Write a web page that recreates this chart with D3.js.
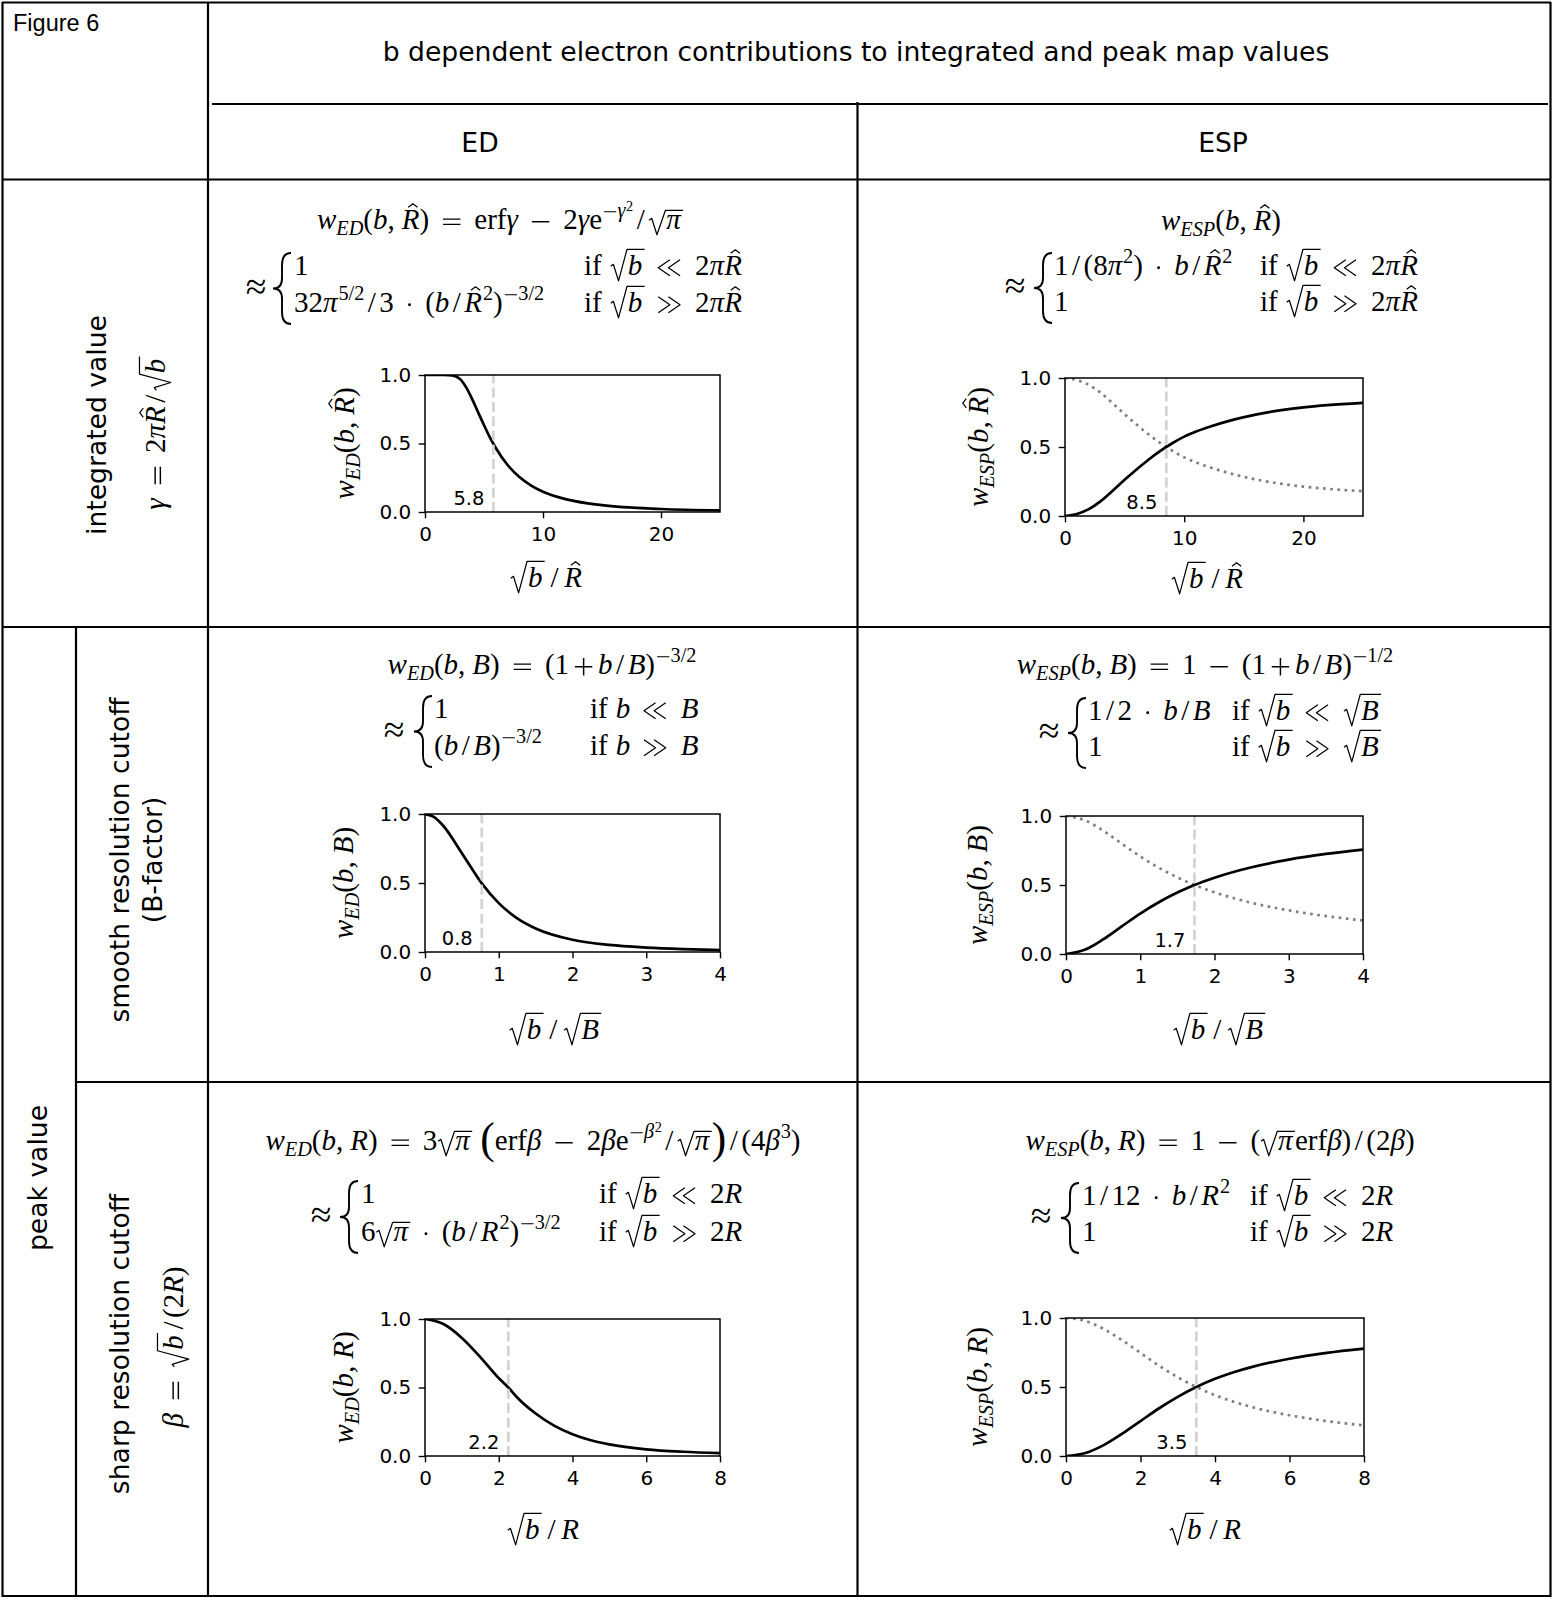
<!DOCTYPE html>
<html>
<head>
<meta charset="utf-8">
<script src="https://cdn.jsdelivr.net/npm/d3@7"></script>
<style>
  body { margin: 0; background: #fff; }
</style>
</head>
<body>
<svg id="fig" width="1555" height="1600"></svg>
<script>
// ---- values ----
const yTickValues = [0, 0.5, 1];
const xTicksIntegrated = [0, 10, 20];
const xTicksSmooth = [0, 1, 2, 3, 4];
const xTicksSharp = [0, 2, 4, 6, 8];

const markerValues = [5.8, 8.5, 0.77, 1.73, 2.26, 3.5];
const markerLabels = ["5.8", "8.5", "0.8", "1.7", "2.2", "3.5"];

// [x, y] points for each curve
const edIntegrated = [[0,1],[1.5,1],[2,0.9995],[2.5,0.994],[3,0.968],[3.5,0.908],[4,0.824],[4.5,0.728],[5,0.634],[5.5,0.544],[6,0.467],[7,0.343],[8,0.255],[9,0.193],[10,0.148],[12,0.092],[15,0.05],[20,0.022],[25,0.012]];
const espIntegrated = [[0,0],[1,0.015],[2,0.05],[3,0.108],[4,0.183],[5,0.262],[6,0.337],[7,0.408],[8,0.472],[9,0.527],[10,0.575],[11,0.612],[12,0.643],[14,0.695],[16,0.735],[18,0.765],[20,0.787],[22,0.803],[25,0.82]];
const espIntegratedRest = [[0,1],[1,0.985],[2,0.95],[3,0.892],[4,0.817],[5,0.738],[6,0.663],[7,0.592],[8,0.528],[9,0.473],[10,0.425],[11,0.388],[12,0.357],[14,0.305],[16,0.265],[18,0.235],[20,0.213],[22,0.197],[25,0.18]];
const edSmooth = [[0,1],[0.125,0.977],[0.25,0.913],[0.5,0.716],[0.77,0.497],[1,0.354],[1.25,0.244],[1.5,0.171],[2,0.089],[2.5,0.051],[3,0.032],[3.5,0.021],[4,0.014]];
const espSmooth = [[0,0],[0.25,0.03],[0.5,0.106],[0.75,0.2],[1,0.293],[1.25,0.375],[1.5,0.445],[1.73,0.5],[2,0.553],[2.5,0.629],[3,0.684],[3.5,0.725],[4,0.757]];
const espSmoothRest = [[0,1],[0.25,0.97],[0.5,0.894],[0.75,0.8],[1,0.707],[1.25,0.625],[1.5,0.555],[1.73,0.5],[2,0.447],[2.5,0.371],[3,0.316],[3.5,0.275],[4,0.243]];
const edSharp = [[0,1],[0.5,0.963],[1,0.862],[1.5,0.722],[2,0.568],[2.26,0.5],[2.5,0.427],[3,0.31],[3.5,0.222],[4,0.159],[4.5,0.115],[5,0.085],[6,0.049],[7,0.031],[8,0.021]];
const espSharp = [[0,0],[0.5,0.02],[1,0.077],[1.5,0.16],[2,0.253],[2.5,0.346],[3,0.429],[3.5,0.5],[4,0.559],[4.5,0.607],[5,0.646],[6,0.705],[7,0.747],[8,0.778]];
const espSharpRest = [[0,1],[0.5,0.98],[1,0.923],[1.5,0.84],[2,0.747],[2.5,0.654],[3,0.571],[3.5,0.5],[4,0.441],[4.5,0.393],[5,0.354],[6,0.295],[7,0.253],[8,0.222]];

const SANS = "'DejaVu Sans', sans-serif";
const MATH_FONT = "'Liberation Serif', 'DejaVu Serif', serif";
const svg = d3.select("#fig");

// ---- tiny math typesetter ----
let slashSpace = 0.12;
function atom(c){
  if ("=+−≈≪≫·".includes(c)) return {k: "op", t: c};
  if (c === "/") return {k: "slash", t: c};
  if (c === ",") return {k: "punct", t: c};
  if (/[A-Za-zα-ω]/.test(c)) return {k: "t", t: c, f: "i"};
  return {k: "t", t: c, f: "r"};
}
function parseTeX(s){
  let i = 0;
  function group(){ i++; const kids = seq("}"); i++; return kids; }
  function seq(end){
    const out = [];
    while (i < s.length && s[i] !== end){
      const c = s[i];
      if (c === "\\"){
        const cmd = /^\\([a-z]+)/.exec(s.slice(i))[1];
        i += cmd.length + 1;
        if (cmd === "big"){ out.push({k: "big", t: s[i]}); i++; }
        else if (cmd === "r"){ const j = s.indexOf("}", i); out.push({k: "t", t: s.slice(i + 1, j), f: "r"}); i = j + 1; }
        else out.push({k: cmd, kids: group()});
      } else if (c === "_" || c === "^"){
        i++;
        const kids = s[i] === "{" ? group() : [atom(s[i++])];
        out.push({k: c === "_" ? "sub" : "sup", kids});
      } else if (c === " "){ i++; out.push({k: "sp", w: 0.28}); }
      else { i++; out.push(atom(c)); }
    }
    return out;
  }
  return seq(null);
}
function glyph(g, t, x, y, fs, f){
  const el = g.append("text")
    .attr("x", x).attr("y", y)
    .attr("font-family", MATH_FONT).attr("font-size", fs)
    .attr("font-style", f === "i" ? "italic" : "normal")
    .text(t);
  return el.node().getComputedTextLength();
}
function stroke(g, d, fs, k){
  g.append("path").attr("d", d).attr("fill", "none")
    .attr("stroke", "#000").attr("stroke-width", Math.max(1, fs * (k || 0.042)))
    .attr("stroke-linejoin", "round");
}
function opGlyph(g, t, x, y, fs){
  const ax = y - 0.25 * fs;
  if (t === "≪" || t === "≫"){
    const h = 0.28 * fs, cw = 0.4 * fs;
    [0.05 * fs, 0.4 * fs].forEach(off => {
      const a = x + off, b = x + off + cw;
      stroke(g, t === "≪" ? `M${b},${ax - h}L${a},${ax}L${b},${ax + h}` : `M${a},${ax - h}L${b},${ax}L${a},${ax + h}`, fs);
    });
    return 0.9 * fs;
  }
  if (t === "·"){
    g.append("circle").attr("cx", x + 0.14 * fs).attr("cy", ax).attr("r", 0.05 * fs).attr("fill", "#000");
    return 0.28 * fs;
  }
  if (t === "−"){ stroke(g, `M${x + 0.06 * fs},${ax}H${x + 0.66 * fs}`, fs, 0.05); return 0.72 * fs; }
  if (t === "="){ stroke(g, `M${x + 0.06 * fs},${ax - 0.09 * fs}H${x + 0.66 * fs}M${x + 0.06 * fs},${ax + 0.09 * fs}H${x + 0.66 * fs}`, fs, 0.05); return 0.72 * fs; }
  if (t === "+"){ stroke(g, `M${x + 0.06 * fs},${ax}H${x + 0.66 * fs}M${x + 0.36 * fs},${ax - 0.3 * fs}V${ax + 0.3 * fs}`, fs, 0.05); return 0.72 * fs; }
  return glyph(g, t, x, y, fs, "r");
}
function setNodes(g, nodes, x, y, fs, lvl){
  nodes.forEach(n => {
    if (n.k === "t") x += glyph(g, n.t, x, y, fs, n.f);
    else if (n.k === "op"){
      const s = lvl ? 0 : (n.t === "·" ? 0.12 : 0.14) * fs;
      x += s; x += opGlyph(g, n.t, x, y, fs); x += s;
    }
    else if (n.k === "slash"){
      const s = lvl ? 0 : slashSpace * fs;
      x += s; x += glyph(g, n.t, x, y, fs, "r"); x += s;
    }
    else if (n.k === "punct"){ x += glyph(g, n.t, x, y, fs, "r"); if (!lvl) x += 0.24 * fs; }
    else if (n.k === "sp") x += n.w * fs;
    else if (n.k === "sub") x = setNodes(g, n.kids, x, y + 0.2 * fs, fs * 0.7, lvl + 1);
    else if (n.k === "sup") x = setNodes(g, n.kids, x + 0.03 * fs, y - (lvl ? 0.3 : 0.42) * fs, fs * 0.7, lvl + 1);
    else if (n.k === "big") x += glyph(g, n.t, x, y + 0.12 * fs, fs * 1.5, "r");
    else if (n.k === "h"){
      const x0 = x;
      x = setNodes(g, n.kids, x, y, fs, lvl);
      const cx = (x0 + x) / 2 + 0.08 * fs;
      stroke(g, `M${cx - 0.16 * fs},${y - 0.75 * fs}L${cx},${y - 0.87 * fs}L${cx + 0.16 * fs},${y - 0.75 * fs}`, fs);
    }
    else if (n.k === "s"){
      const tall = JSON.stringify(n.kids).match(/"t":"[bdfhklBRA-Z0-9]"/);
      const top = y - (tall ? 0.88 : 0.64) * fs;
      const x0 = x;
      x = setNodes(g, n.kids, x + 0.62 * fs, y, fs, lvl) + 0.08 * fs;
      stroke(g, `M${x0 + 0.03 * fs},${y - 0.3 * fs}L${x0 + 0.12 * fs},${y - 0.37 * fs}L${x0 + 0.3 * fs},${y + 0.2 * fs}L${x0 + 0.59 * fs},${top}L${x},${top}`, fs);
    }
  });
  return x;
}
function mathAt(parent, tex, fs, x, y, anchor, rotate){
  const outer = parent.append("g");
  const inner = outer.append("g");
  const w = setNodes(inner, parseTeX(tex), 0, 0, fs, 0);
  const frac = anchor === "middle" ? 0.5 : anchor === "end" ? 1 : 0;
  outer.attr("transform", `translate(${x},${y})` + (rotate ? ` rotate(${rotate})` : ""));
  inner.attr("transform", `translate(${-w * frac},0)`);
  return w;
}
function brace(g, x, top, bot){
  const w = 18, mid = (top + bot) / 2, xm = x + w * 0.5;
  g.append("path")
    .attr("d", `M${x + w},${top}Q${xm},${top} ${xm},${top + 12}L${xm},${mid - 10}Q${xm},${mid} ${x},${mid}` +
               `Q${xm},${mid} ${xm},${mid + 10}L${xm},${bot - 12}Q${xm},${bot} ${x + w},${bot}`)
    .attr("fill", "none").attr("stroke", "#000").attr("stroke-width", 1.9);
}

// ---- table grid ----
const hLines = [[2, 2.5, 1551, 2.5], [212, 104, 1548, 104], [2, 179.5, 1551, 179.5], [2, 627, 1551, 627], [76, 1082, 1551, 1082], [2, 1596, 1551, 1596]];
const vLines = [[2.5, 2, 2.5, 1597], [208, 2, 208, 1597], [857.5, 102, 857.5, 1597], [76, 627, 76, 1597], [1550.5, 2, 1550.5, 1597]];
svg.selectAll("line.grid").data(hLines.concat(vLines)).enter().append("line")
  .attr("class", "grid")
  .attr("x1", d => d[0]).attr("y1", d => d[1]).attr("x2", d => d[2]).attr("y2", d => d[3])
  .attr("stroke", "#000").attr("stroke-width", 2.2);

const TXT = 26.6;
svg.append("text").attr("x", 13).attr("y", 31).attr("font-family", "'Liberation Sans', Arial, sans-serif")
  .attr("font-size", 23.5).text("Figure 6");
svg.append("text").attr("x", 856).attr("y", 61).attr("text-anchor", "middle").attr("font-family", SANS)
  .attr("font-size", TXT).text("b dependent electron contributions to integrated and peak map values");
svg.append("text").attr("x", 480).attr("y", 152).attr("text-anchor", "middle").attr("font-family", SANS)
  .attr("font-size", TXT).text("ED");
svg.append("text").attr("x", 1223).attr("y", 152).attr("text-anchor", "middle").attr("font-family", SANS)
  .attr("font-size", TXT).text("ESP");

// row labels (rotated)
const rowLabels = [
  {t: "integrated value", x: 106, y: 425},
  {t: "peak value", x: 47, y: 1178},
  {t: "smooth resolution cutoff", x: 129, y: 860},
  {t: "(B-factor)", x: 162, y: 860},
  {t: "sharp resolution cutoff", x: 129, y: 1344}
];
svg.selectAll("text.row").data(rowLabels).enter().append("text")
  .attr("class", "row")
  .attr("transform", d => `translate(${d.x},${d.y}) rotate(-90)`)
  .attr("text-anchor", "middle").attr("font-family", SANS).attr("font-size", TXT)
  .text(d => d.t);
const FS = 29;
mathAt(svg, "γ = 2π\\h{R}/\\s{b}", FS, 165, 433, "middle", -90);
mathAt(svg, "β = \\s{b}/(2R)", FS, 183, 1347, "middle", -90);

// ---- formulas in the cells ----
const cells = [
  {line: "w_{ED}(b,\\h{R}) = \\r{erf}γ − 2γ\\r{e}^{−γ^{2}}/\\s{π}", cx: 500, y1: 229,
   c1: "1", c2: "32π^{5/2}/3 · (b/\\h{R}^{2})^{−3/2}",
   i1: "\\r{if} \\s{b} ≪ 2π\\h{R}", i2: "\\r{if} \\s{b} ≫ 2π\\h{R}",
   ax: 256, bx: 273, cx0: 294, ix: 584, y2: 275, y3: 312},
  {line: "w_{ESP}(b,\\h{R})", cx: 1221, y1: 230,
   c1: "1/(8π^{2}) · b/\\h{R}^{2}", c2: "1",
   i1: "\\r{if} \\s{b} ≪ 2π\\h{R}", i2: "\\r{if} \\s{b} ≫ 2π\\h{R}",
   ax: 1015, bx: 1034, cx0: 1054, ix: 1260, y2: 275, y3: 311},
  {line: "w_{ED}(b,B) = (1+b/B)^{−3/2}", cx: 542, y1: 674,
   c1: "1", c2: "(b/B)^{−3/2}",
   i1: "\\r{if} b ≪ B", i2: "\\r{if} b ≫ B",
   ax: 394, bx: 414, cx0: 434, ix: 590, y2: 718, y3: 755},
  {line: "w_{ESP}(b,B) = 1 − (1+b/B)^{−1/2}", cx: 1205, y1: 674,
   c1: "1/2 · b/B", c2: "1",
   i1: "\\r{if} \\s{b} ≪ \\s{B}", i2: "\\r{if} \\s{b} ≫ \\s{B}",
   ax: 1049, bx: 1068, cx0: 1088, ix: 1232, y2: 720, y3: 756},
  {line: "w_{ED}(b,R) = 3\\s{π} \\big(\\r{erf}β − 2β\\r{e}^{−β^{2}}/\\s{π}\\big)/(4β^{3})", cx: 533, y1: 1150,
   c1: "1", c2: "6\\s{π} · (b/R^{2})^{−3/2}",
   i1: "\\r{if} \\s{b} ≪ 2R", i2: "\\r{if} \\s{b} ≫ 2R",
   ax: 321, bx: 340, cx0: 361, ix: 599, y2: 1203, y3: 1241},
  {line: "w_{ESP}(b,R) = 1 − (\\s{π}\\r{erf}β)/(2β)", cx: 1220, y1: 1150,
   c1: "1/12 · b/R^{2}", c2: "1",
   i1: "\\r{if} \\s{b} ≪ 2R", i2: "\\r{if} \\s{b} ≫ 2R",
   ax: 1041, bx: 1061, cx0: 1082, ix: 1250, y2: 1205, y3: 1241}
];
cells.forEach(c => {
  const g = svg.append("g");
  mathAt(g, c.line, FS, c.cx, c.y1, "middle");
  mathAt(g, "≈", FS * 1.3, c.ax, (c.y2 + c.y3) / 2 + 5, "middle");
  brace(g, c.bx, c.y2 - 22, c.y3 + 12);
  mathAt(g, c.c1, FS, c.cx0, c.y2, "start");
  mathAt(g, c.c2, FS, c.cx0, c.y3, "start");
  mathAt(g, c.i1, FS, c.ix, c.y2, "start");
  mathAt(g, c.i2, FS, c.ix, c.y3, "start");
});

// ---- the six small plots ----
const panels = [
  {left: 425, right: 720, top: 375, bottom: 512, domain: [0, 25], ticks: xTicksIntegrated,
   solid: edIntegrated, dotted: null, m: 0, ylab: "w_{ED}(b,\\h{R})", ylx: 354, xlab: "\\s{b}/\\h{R}", xlx: 546, xly: 587},
  {left: 1065, right: 1363, top: 378, bottom: 516, domain: [0, 25], ticks: xTicksIntegrated,
   solid: espIntegrated, dotted: espIntegratedRest, m: 1, ylab: "w_{ESP}(b,\\h{R})", ylx: 988, xlab: "\\s{b}/\\h{R}", xlx: 1207, xly: 588},
  {left: 425, right: 720, top: 814, bottom: 952, domain: [0, 4], ticks: xTicksSmooth,
   solid: edSmooth, dotted: null, m: 2, ylab: "w_{ED}(b,B)", ylx: 353, xlab: "\\s{b}/\\s{B}", xlx: 555, xly: 1039},
  {left: 1066, right: 1363, top: 816, bottom: 954, domain: [0, 4], ticks: xTicksSmooth,
   solid: espSmooth, dotted: espSmoothRest, m: 3, ylab: "w_{ESP}(b,B)", ylx: 987, xlab: "\\s{b}/\\s{B}", xlx: 1219, xly: 1039},
  {left: 425, right: 720, top: 1319, bottom: 1456, domain: [0, 8], ticks: xTicksSharp,
   solid: edSharp, dotted: null, m: 4, ylab: "w_{ED}(b,R)", ylx: 353, xlab: "\\s{b}/R", xlx: 543, xly: 1539},
  {left: 1066, right: 1364, top: 1318, bottom: 1456, domain: [0, 8], ticks: xTicksSharp,
   solid: espSharp, dotted: espSharpRest, m: 5, ylab: "w_{ESP}(b,R)", ylx: 987, xlab: "\\s{b}/R", xlx: 1205, xly: 1539}
];

panels.forEach((p, i) => {
  const x = d3.scaleLinear().domain(p.domain).range([p.left, p.right]);
  const y = d3.scaleLinear().domain([0, 1]).range([p.bottom, p.top]);
  const g = svg.append("g");
  const clipId = "clip" + i;
  g.append("clipPath").attr("id", clipId).append("rect")
    .attr("x", p.left).attr("y", p.top).attr("width", p.right - p.left).attr("height", p.bottom - p.top);
  const line = d3.line().x(d => x(d[0])).y(d => y(d[1])).curve(d3.curveMonotoneX);
  const plot = g.append("g").attr("clip-path", `url(#${clipId})`);
  if (p.dotted) {
    plot.append("path").attr("d", line(p.dotted)).attr("fill", "none")
      .attr("stroke", "#808080").attr("stroke-width", 2.7).attr("stroke-dasharray", "2.7,4.5");
  }
  plot.append("path").attr("d", line(p.solid)).attr("fill", "none")
    .attr("stroke", "#000").attr("stroke-width", 2.7);
  const mv = markerValues[p.m];
  plot.append("line").attr("x1", x(mv)).attr("x2", x(mv)).attr("y1", y(0)).attr("y2", y(1))
    .attr("stroke", "#d3d3d3").attr("stroke-width", 2.7).attr("stroke-dasharray", "10,4.3");
  g.append("text").attr("x", x(mv) - 9).attr("y", y(0) - 7).attr("text-anchor", "end")
    .attr("font-family", SANS).attr("font-size", 19.5).text(markerLabels[p.m]);

  g.append("g").attr("transform", `translate(0,${p.bottom})`)
    .call(d3.axisBottom(x).tickValues(p.ticks).tickSize(6.3).tickSizeOuter(0).tickPadding(8).tickFormat(d3.format("d")))
    .attr("font-family", SANS).attr("font-size", 20)
    .call(a => a.select(".domain").remove())
    .call(a => a.selectAll("line").attr("stroke", "#000").attr("stroke-width", 1.4));
  g.append("g").attr("transform", `translate(${p.left},0)`)
    .call(d3.axisLeft(y).tickValues(yTickValues).tickSize(6.3).tickSizeOuter(0).tickPadding(7.5).tickFormat(d3.format(".1f")))
    .attr("font-family", SANS).attr("font-size", 20)
    .call(a => a.select(".domain").remove())
    .call(a => a.selectAll("line").attr("stroke", "#000").attr("stroke-width", 1.4));
  g.append("rect").attr("x", p.left).attr("y", p.top).attr("width", p.right - p.left).attr("height", p.bottom - p.top)
    .attr("fill", "none").attr("stroke", "#000").attr("stroke-width", 1.5);

  slashSpace = 0.2;
  mathAt(g, p.ylab, FS, p.ylx, (p.top + p.bottom) / 2, "middle", -90);
  mathAt(g, p.xlab, FS, p.xlx, p.xly, "middle");
  slashSpace = 0.12;
});
</script>
</body>
</html>
